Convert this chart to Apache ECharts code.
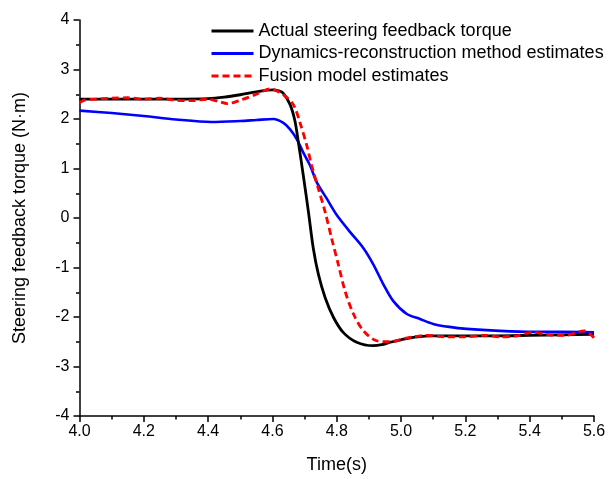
<!DOCTYPE html>
<html>
<head>
<meta charset="utf-8">
<script src="https://cdn.jsdelivr.net/npm/echarts@6/dist/echarts.min.js"></script>
<style>html,body{margin:0;padding:0;background:#fff}#c{width:611px;height:479px}</style>
</head>
<body>
<div id="c"></div>
<script>
const seriesNames = ['Actual steering feedback torque', 'Dynamics-reconstruction method estimates', 'Fusion model estimates'];

const actualT = [4.0, 4.1, 4.2, 4.3, 4.4, 4.45, 4.5, 4.55, 4.6, 4.62, 4.634, 4.655, 4.67, 4.68, 4.696, 4.712, 4.727, 4.743, 4.764, 4.79, 4.82, 4.862, 4.913, 4.94, 4.966, 5.0, 5.05, 5.1, 5.2, 5.3, 5.4, 5.5, 5.6];
const actualV = [2.40, 2.40, 2.40, 2.40, 2.41, 2.44, 2.49, 2.55, 2.59, 2.57, 2.52, 2.29, 1.96, 1.56, 0.86, 0.12, -0.61, -1.14, -1.61, -2.01, -2.31, -2.51, -2.58, -2.56, -2.51, -2.46, -2.40, -2.38, -2.38, -2.38, -2.37, -2.36, -2.35];

const dynT = [4.0, 4.1, 4.2, 4.3, 4.41, 4.5, 4.55, 4.603, 4.634, 4.655, 4.676, 4.696, 4.717, 4.738, 4.769, 4.80, 4.841, 4.883, 4.914, 4.945, 4.976, 5.018, 5.059, 5.10, 5.15, 5.204, 5.308, 5.41, 5.5, 5.6];
const dynV = [2.17, 2.12, 2.06, 1.99, 1.94, 1.96, 1.98, 2.00, 1.92, 1.79, 1.59, 1.32, 1.06, 0.72, 0.39, 0.06, -0.28, -0.61, -0.94, -1.34, -1.68, -1.94, -2.04, -2.14, -2.20, -2.24, -2.28, -2.30, -2.30, -2.31];

const fusionT = [4.0, 4.02, 4.05, 4.1, 4.15, 4.2, 4.25, 4.3, 4.35, 4.4, 4.43, 4.46, 4.5, 4.55, 4.593, 4.634, 4.665, 4.686, 4.707, 4.722, 4.743, 4.764, 4.784, 4.805, 4.826, 4.852, 4.883, 4.924, 4.966, 5.02, 5.08, 5.14, 5.2, 5.26, 5.31, 5.36, 5.41, 5.46, 5.51, 5.57, 5.6];
const fusionV = [2.33, 2.39, 2.40, 2.42, 2.43, 2.40, 2.42, 2.38, 2.37, 2.40, 2.36, 2.31, 2.38, 2.50, 2.61, 2.49, 2.29, 1.92, 1.46, 1.06, 0.59, 0.12, -0.41, -0.94, -1.48, -1.94, -2.28, -2.48, -2.50, -2.42, -2.37, -2.40, -2.40, -2.37, -2.40, -2.38, -2.31, -2.36, -2.37, -2.28, -2.42];

const xTicks = ['4.0','4.2','4.4','4.6','4.8','5.0','5.2','5.4','5.6'];
const yTicks = [-4,-3,-2,-1,0,1,2,3,4];

function zip(t, v){ return t.map((x,i)=>[x, v[i]]); }

const chart = echarts.init(document.getElementById('c'), null, {renderer:'canvas'});
const FONT = 'Liberation Sans, Arial, sans-serif';
chart.setOption({
  animation: false,
  backgroundColor: '#fff',
  grid: {left: 79.5, right: 17, top: 20, bottom: 59.5},
  legend: {
    orient: 'vertical', left: 205, top: 17, itemGap: 4.5, itemWidth: 42, itemHeight: 18,
    textStyle: {fontFamily: FONT, fontSize: 18, color: '#000'},
    itemStyle: {opacity: 0},
    lineStyle: {width: 3},
    data: seriesNames
  },
  xAxis: {
    type: 'value', min: 4.0, max: 5.6, interval: 0.2,
    name: 'Time(s)', nameLocation: 'middle', nameGap: 40,
    nameTextStyle: {fontFamily: FONT, fontSize: 18, color: '#000'},
    axisLine: {onZero: false, lineStyle: {color: '#000', width: 1.5}},
    axisTick: {show: true, inside: false, length: 6, lineStyle: {color: '#000', width: 1.5}},
    minorTick: {show: true, splitNumber: 2, length: 3.5, lineStyle: {color: '#000', width: 1.5}},
    splitLine: {show: false},
    axisLabel: {fontFamily: FONT, fontSize: 16, color: '#000', margin: 8,
      formatter: v => xTicks.find(s => Math.abs(parseFloat(s) - v) < 1e-6) || ''}
  },
  yAxis: {
    type: 'value', min: -4, max: 4, interval: 1,
    name: 'Steering feedback torque (N·m)', nameLocation: 'middle', nameGap: 50, nameRotate: 90,
    nameTextStyle: {fontFamily: FONT, fontSize: 18, color: '#000'},
    axisLine: {show: true, onZero: false, lineStyle: {color: '#000', width: 1.5}},
    axisTick: {show: true, inside: false, length: 6, lineStyle: {color: '#000', width: 1.5}},
    minorTick: {show: true, splitNumber: 2, length: 3.5, lineStyle: {color: '#000', width: 1.5}},
    splitLine: {show: false},
    axisLabel: {fontFamily: FONT, fontSize: 16, color: '#000', margin: 10,
      formatter: v => yTicks.includes(v) ? String(v) : ''}
  },
  series: [
    {name: seriesNames[0], type: 'line', data: zip(actualT, actualV), smooth: 0.3, symbol: 'none',
     lineStyle: {color: '#000', width: 2.8}, itemStyle: {color: '#000'}, z: 3},
    {name: seriesNames[1], type: 'line', data: zip(dynT, dynV), smooth: 0.3, symbol: 'none',
     lineStyle: {color: '#0000ff', width: 2.6}, itemStyle: {color: '#0000ff'}, z: 2},
    {name: seriesNames[2], type: 'line', data: zip(fusionT, fusionV), smooth: 0.3, symbol: 'none',
     lineStyle: {color: '#ff0000', width: 2.8, type: [7, 4]}, itemStyle: {color: '#ff0000'}, z: 4}
  ]
});
</script>
</body>
</html>
